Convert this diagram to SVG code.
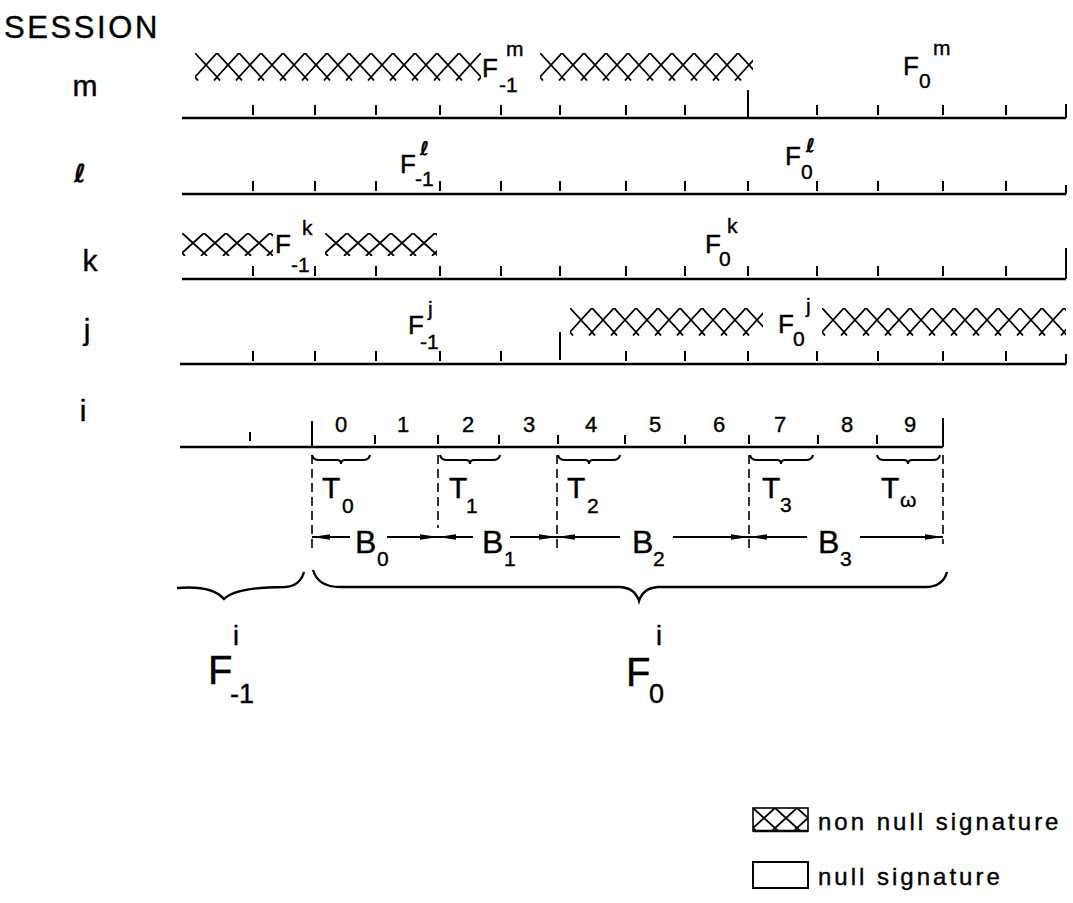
<svg xmlns="http://www.w3.org/2000/svg" width="1073" height="903" viewBox="0 0 1073 903">
<style>
.ln{stroke:#000;stroke-width:2.6;fill:none}
.tk{stroke:#000;stroke-width:2;fill:none}
.ds{stroke:#000;stroke-width:1.6;stroke-dasharray:9 5;fill:none}
.br{stroke:#000;stroke-width:2;fill:none}
.bb{stroke:#000;stroke-width:2.4;fill:none}
.ar{stroke:#000;stroke-width:2.2;fill:none;marker-end:url(#ah)}
text{font-family:'Liberation Sans',Arial,sans-serif;fill:#000;stroke:#000;stroke-width:0.4}
.f{font-size:26px}
.s{font-size:21px}
.lb{font-size:30px}
.sc{font-family:'DejaVu Sans',sans-serif;font-style:italic;font-weight:bold}
.n{font-size:22px;text-anchor:middle}
.T{font-size:30px}
.B{font-size:32px}
.bg{font-size:40px}
.bs{font-size:27px}
.lg{font-size:24px;letter-spacing:3px}
</style>
<defs>
<pattern id="hx" patternUnits="userSpaceOnUse" width="22" height="28">
<path d="M0,24 L22,0 M0,0 L22,24 M22,24 L19,27.5 M0,24 L3,27.5" stroke="#000" stroke-width="1.8" fill="none"/>
</pattern>
<pattern id="hk" patternUnits="userSpaceOnUse" width="22" height="23">
<path d="M0,20 L22,0 M0,0 L22,20 M22,20 L19,23 M0,20 L3,23" stroke="#000" stroke-width="1.8" fill="none"/>
</pattern>
<marker id="ah" viewBox="0 0 18 8" refX="18" refY="4" markerWidth="18" markerHeight="8" markerUnits="userSpaceOnUse" orient="auto">
<path d="M0,1.2 L18,4 L0,6.8 Z" fill="#000"/>
</marker>
</defs>
<rect width="1073" height="903" fill="#fff"/>

<text x="4" y="38" style="font-size:31px;letter-spacing:2.6px">SESSION</text>

<!-- session m -->
<g id="session-m">
<text class="lb" x="85" y="96" text-anchor="middle">m</text>
<g transform="translate(195,53)"><rect width="286" height="28" fill="url(#hx)"/></g>
<g transform="translate(540,53)"><rect width="213" height="28" fill="url(#hx)"/></g>
<text class="f" x="482" y="77">F</text>
<text class="s" x="499" y="92">-1</text>
<text class="s" x="506" y="56">m</text>
<text class="f" x="903" y="75">F</text>
<text class="s" x="919" y="88">0</text>
<text class="s" x="933" y="55">m</text>
<path class="ln" d="M182,118 H1066"/>
<path class="tk" d="M253,105v10M315,105v10M376,105v10M440,105v10M501,105v10M560,105v10M626,105v10M685,105v10M748,90v28M817,105v10M878,105v10M943,105v10M1006,105v10M1066,104v14"/>
</g>

<!-- session l -->
<g id="session-l">
<text class="lb sc" x="80" y="182" text-anchor="middle" style="font-size:25px">ℓ</text>
<text class="f" x="400" y="173">F</text>
<text class="s" x="415" y="186">-1</text>
<text class="s sc" x="420" y="155" style="font-size:19px">ℓ</text>
<text class="f" x="785" y="165">F</text>
<text class="s" x="801" y="179">0</text>
<text class="s sc" x="806" y="152" style="font-size:19px">ℓ</text>
<path class="ln" d="M182,194 H1066"/>
<path class="tk" d="M253,181v10M315,181v10M376,181v10M440,181v10M501,181v10M560,181v10M626,181v10M685,181v10M748,181v10M817,181v10M878,181v10M943,181v10M1006,181v10M1066,185v9"/>
</g>

<!-- session k -->
<g id="session-k">
<text class="lb" x="90" y="271" text-anchor="middle">k</text>
<g transform="translate(182,233)"><rect width="91" height="23" fill="url(#hk)"/></g>
<g transform="translate(325,233)"><rect width="112" height="23" fill="url(#hk)"/></g>
<text class="f" x="275" y="253">F</text>
<text class="s" x="291" y="272">-1</text>
<text class="s" x="302" y="235">k</text>
<text class="f" x="705" y="253">F</text>
<text class="s" x="719" y="266">0</text>
<text class="s" x="727" y="233">k</text>
<path class="ln" d="M182,279 H1066"/>
<path class="tk" d="M253,266v10M315,266v10M376,266v10M440,266v10M501,266v10M560,266v10M626,266v10M685,266v10M748,266v10M817,266v10M878,266v10M943,266v10M1006,266v10M1066,248v31"/>
</g>

<!-- session j -->
<g id="session-j">
<text class="lb" x="87" y="340" text-anchor="middle">j</text>
<text class="f" x="408" y="334">F</text>
<text class="s" x="420" y="349">-1</text>
<text class="s" x="428" y="316">j</text>
<g transform="translate(570,308)"><rect width="193" height="28" fill="url(#hx)"/></g>
<g transform="translate(822,308)"><rect width="244" height="28" fill="url(#hx)"/></g>
<text class="f" x="778" y="333">F</text>
<text class="s" x="793" y="346">0</text>
<text class="s" x="806" y="313">j</text>
<path class="ln" d="M180,364 H1066"/>
<path class="tk" d="M253,351v10M315,351v10M376,351v10M440,351v10M501,351v10M560,332v28M626,351v10M685,351v10M748,351v10M817,351v10M878,351v10M943,351v10M1006,351v10M1066,354v10"/>
</g>

<!-- session i -->
<g id="session-i">
<text class="lb" x="83" y="421" text-anchor="middle">i</text>
<path class="ln" d="M180,447 H943"/>
<path class="tk" d="M250,432v9M312,421v26M375,435v9M438,435v9M499,435v9M558,435v9M625,435v9M685,435v9M749,435v9M818,435v9M877,435v9M943,418v29"/>
<text class="n" x="341" y="432">0</text>
<text class="n" x="403" y="432">1</text>
<text class="n" x="468" y="432">2</text>
<text class="n" x="529" y="432">3</text>
<text class="n" x="591" y="432">4</text>
<text class="n" x="655" y="432">5</text>
<text class="n" x="719" y="432">6</text>
<text class="n" x="780" y="432">7</text>
<text class="n" x="847" y="432">8</text>
<text class="n" x="910" y="432">9</text>
</g>

<!-- T braces -->
<g id="t-intervals">
<path class="br" d="M312,455 Q313,460 319,460 L337,460 Q341,460 341,464 Q341,460 345,460 L363,460 Q369,460 370,455"/>
<path class="br" d="M440,455 Q441,460 447,460 L466,460 Q470,460 470,464 Q470,460 474,460 L493,460 Q499,460 500,455"/>
<path class="br" d="M558,455 Q559,460 565,460 L585,460 Q589,460 589,464 Q589,460 593,460 L613,460 Q619,460 620,455"/>
<path class="br" d="M750,455 Q751,460 757,460 L777,460 Q781,460 781,464 Q781,460 785,460 L806,460 Q812,460 813,455"/>
<path class="br" d="M877,455 Q878,460 884,460 L904,460 Q908,460 908,464 Q908,460 912,460 L933,460 Q939,460 940,455"/>
<text class="T" x="322" y="498">T</text><text class="s" x="342" y="513">0</text>
<text class="T" x="449" y="498">T</text><text class="s" x="466" y="513">1</text>
<text class="T" x="567" y="498">T</text><text class="s" x="587" y="513">2</text>
<text class="T" x="762" y="498">T</text><text class="s" x="780" y="512">3</text>
<text class="T" x="881" y="498">T</text><text class="s" x="900" y="507">ω</text>
</g>

<!-- connectors: dashed boundaries and B arrows -->
<g id="connectors">
<path class="ds" d="M312,455 V548M438,455 V528M557,455 V553M749,455 V548M943,455 V544"/>
<path class="ar" d="M350,537 H312"/>
<path class="ar" d="M387,537 H438"/>
<path class="ar" d="M473,537 H438"/>
<path class="ar" d="M510,537 H557"/>
<path class="ar" d="M620,537 H557"/>
<path class="ar" d="M673,537 H749"/>
<path class="ar" d="M807,537 H749"/>
<path class="ar" d="M860,537 H943"/>
</g>
<g id="b-labels">
<text class="B" x="355" y="553">B</text><text class="s" x="377" y="566">0</text>
<text class="B" x="482" y="553">B</text><text class="s" x="504" y="566">1</text>
<text class="B" x="632" y="553">B</text><text class="s" x="653" y="566">2</text>
<text class="B" x="818" y="553">B</text><text class="s" x="840" y="566">3</text>
</g>

<!-- frame braces -->
<g id="frame-prev">
<path class="bb" d="M177,588 Q212,585 224,599 Q236,587 285,587 Q300,586 304,572"/>
<text class="bg" x="208" y="684">F</text>
<text class="bs" x="230" y="703">-1</text>
<text class="bs" x="233" y="645">i</text>
</g>
<g id="frame-cur">
<path class="bb" d="M313,570 Q318,587 340,587 L620,587 Q635,588 639,601 Q643,588 658,587 L925,587 Q943,587 947,572"/>
<text class="bg" x="626" y="686">F</text>
<text class="bs" x="649" y="703">0</text>
<text class="bs" x="656" y="645">i</text>
</g>

<!-- legend -->
<g id="legend-nonnull">
<g transform="translate(753,808)"><rect width="55" height="23" fill="url(#hk)"/></g>
<rect x="753" y="808" width="55" height="23" fill="none" stroke="#000" stroke-width="1.6"/>
<path class="ln" d="M753,831 H808"/>
<text class="lg" x="818" y="830">non null signature</text>
</g>
<g id="legend-null">
<rect x="753" y="862" width="55" height="26" fill="#fff" stroke="#000" stroke-width="2"/>
<text class="lg" x="818" y="885">null signature</text>
</g>
</svg>
